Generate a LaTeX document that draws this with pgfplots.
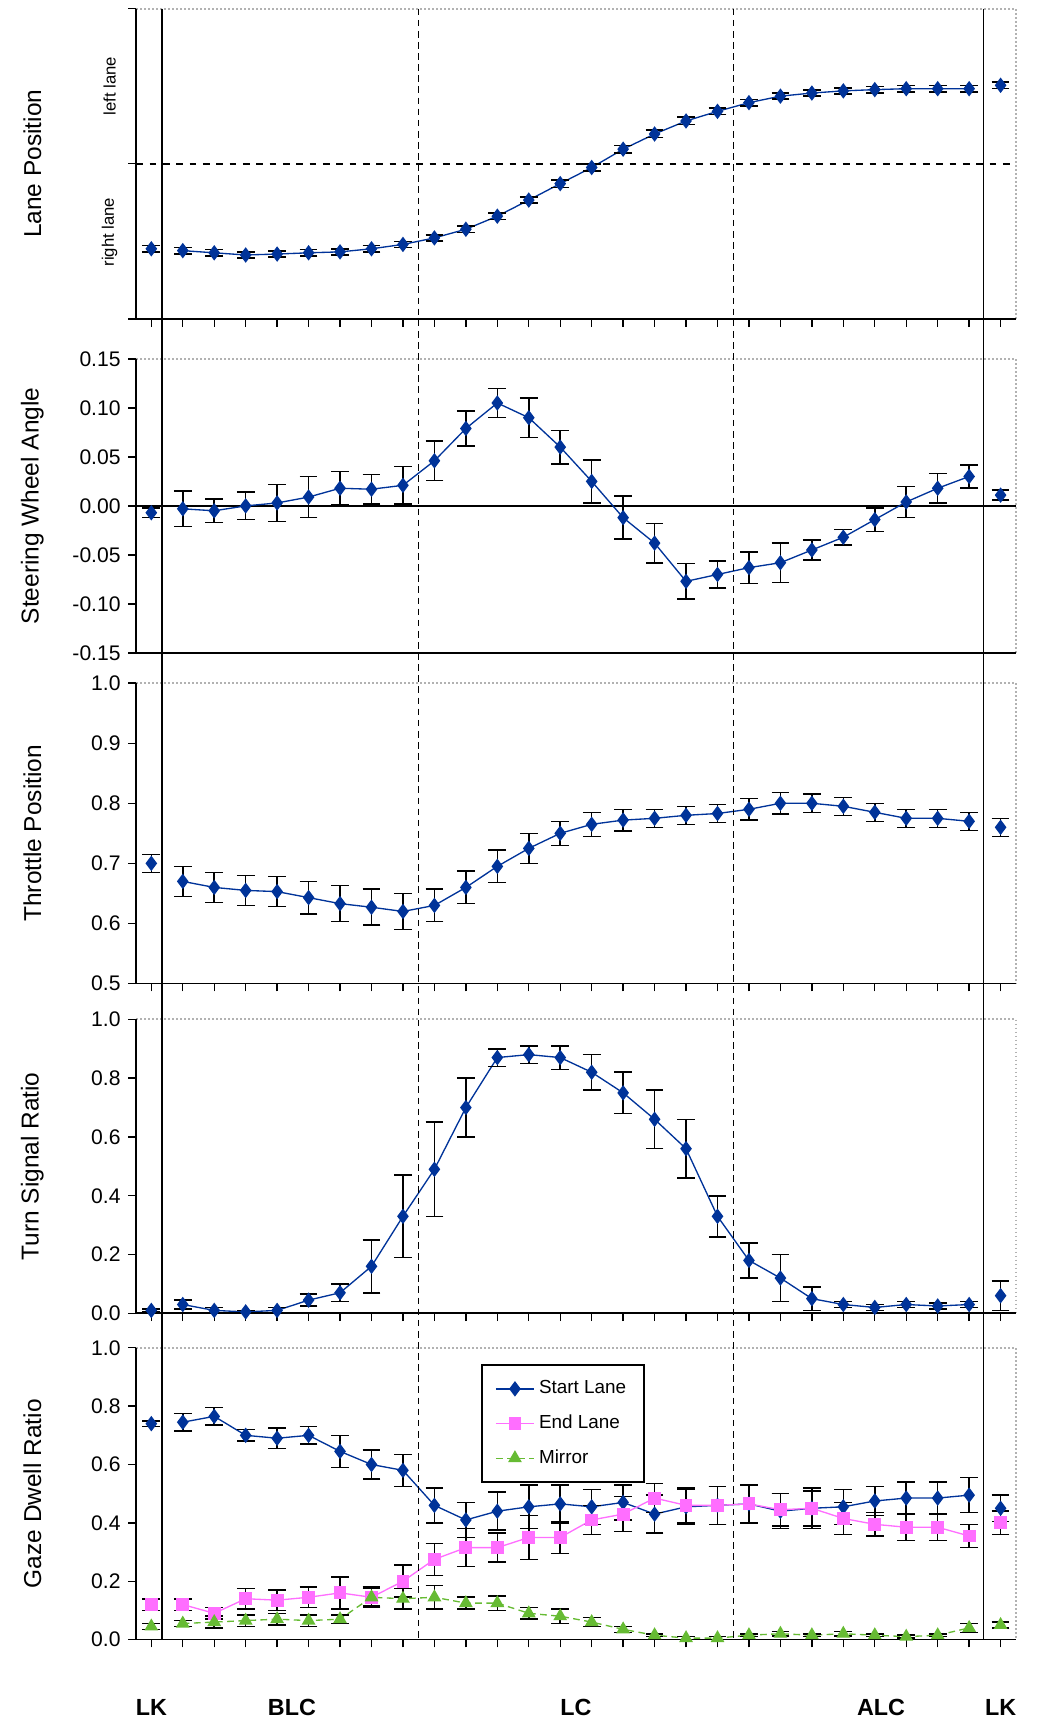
\documentclass[border=0pt]{standalone}
\usepackage{pgfplots}
\pgfplotsset{compat=1.18}
\usepackage{fontspec}
\setmainfont{Liberation Sans}
\definecolor{cS}{RGB}{0,51,153}
\definecolor{cE}{RGB}{255,110,255}
\definecolor{cM}{RGB}{102,187,51}
\pgfplotsset{
 panel/.style={width=395.9pt, scale only axis, xmin=-0.48, xmax=27.49,
  anchor=north west, clip=false, axis line style={draw=none},
  xtick={0,...,27}, xticklabels={}, tick style={black, line width=0.6pt},
  xtick pos=bottom, ytick pos=left, tick align=outside, major tick length=3.5pt,
  unbounded coords=jump,
  /pgf/number format/assume math mode=true,
  ticklabel style={font=\fontsize{9.5}{10}\selectfont},
  /pgf/number format/fixed, /pgf/number format/fixed zerofill,
  ylabel style={font=\fontsize{11}{12}\selectfont, at={(axis description cs:-0.118,0.5)}, anchor=center},
  execute at end axis={
   \draw[gray!60, densely dotted, line width=0.8pt] (rel axis cs:0,1) -- (rel axis cs:1,1) -- (rel axis cs:1,0);
   \draw[black, line width=0.8pt] (rel axis cs:0,1) -- (rel axis cs:0,0) -- (rel axis cs:1,0);
  }},
 sl/.style={color=cS, line width=0.6pt, mark=diamond*, mark size=3pt, mark options={fill=cS},
  error bars/.cd, y dir=both, y explicit, error bar style={black, line width=0.7pt},
  error mark options={rotate=90, black, mark size=4pt, line width=0.7pt}},
 el/.style={color=cE, line width=0.6pt, mark=square*, mark size=2.6pt, mark options={fill=cE},
  error bars/.cd, y dir=both, y explicit, error bar style={black, line width=0.7pt},
  error mark options={rotate=90, black, mark size=4pt, line width=0.7pt}},
 ml/.style={color=cM, line width=0.6pt, densely dashed, mark=triangle*, mark size=3pt, mark options={fill=cM, solid},
  error bars/.cd, y dir=both, y explicit, error bar style={black, line width=0.7pt, solid},
  error mark options={rotate=90, black, mark size=4pt, line width=0.7pt, solid}},
}
\begin{document}
\begin{tikzpicture}
\path (-61.3pt,0) rectangle (406.1pt,-775.8pt);
% Panel 1
\begin{axis}[panel, name=p1, at={(0,-3.9pt)}, height=139.6pt, ymin=0, ymax=1,
  ytick={0,0.5,1}, yticklabels={}, ylabel={Lane Position}]
\addplot[sl] table[x=x,y=y,y error=e]{
x y e
0 0.226 0.01
0.5 nan 0
1 0.220 0.01
2 0.213 0.01
3 0.206 0.01
4 0.209 0.01
5 0.213 0.01
6 0.216 0.01
7 0.226 0.01
8 0.240 0.01
9 0.261 0.01
10 0.289 0.01
11 0.331 0.01
12 0.383 0.01
13 0.436 0.012
14 0.488 0.012
15 0.547 0.012
16 0.596 0.012
17 0.638 0.012
18 0.669 0.01
19 0.697 0.01
20 0.718 0.01
21 0.728 0.01
22 0.735 0.01
23 0.739 0.01
24 0.742 0.01
25 0.742 0.01
26 0.742 0.01
26.5 nan 0
27 0.753 0.01
};
\draw[black, dashed, line width=0.7pt] (axis cs:-0.48,0.5) -- (axis cs:27.49,0.5);
\node[rotate=90, font=\fontsize{7.5}{8}\selectfont, anchor=center] at ([xshift=-12pt]rel axis cs:0,0.75) {left lane};
\node[rotate=90, font=\fontsize{7.5}{8}\selectfont, anchor=center] at ([xshift=-12pt]rel axis cs:0,0.28) {right lane};
\coordinate (t1) at (axis cs:0.34,1); \coordinate (t2) at (axis cs:8.5,1);
\coordinate (t3) at (axis cs:18.5,1); \coordinate (t4) at (axis cs:26.46,1);
\end{axis}
% Panel 2
\begin{axis}[panel, at={(0,-161.5pt)}, height=132.3pt, ymin=-0.15, ymax=0.15,
  ytick={-0.15,-0.1,...,0.16}, /pgf/number format/precision=2, xtick=\empty, ylabel={Steering Wheel Angle}]
\draw[black, line width=0.8pt] (axis cs:-0.48,0) -- (axis cs:27.49,0);
\addplot[sl] table[x=x,y=y,y error=e]{
x y e
0 -0.007 0.005
0.5 nan 0
1 -0.003 0.018
2 -0.005 0.012
3 0.0 0.014
4 0.003 0.019
5 0.009 0.021
6 0.018 0.017
7 0.017 0.015
8 0.021 0.019
9 0.046 0.02
10 0.079 0.018
11 0.105 0.015
12 0.09 0.02
13 0.06 0.017
14 0.025 0.022
15 -0.012 0.022
16 -0.038 0.02
17 -0.077 0.018
18 -0.07 0.014
19 -0.063 0.016
20 -0.058 0.02
21 -0.045 0.01
22 -0.032 0.008
23 -0.014 0.012
24 0.004 0.016
25 0.018 0.015
26 0.03 0.012
26.5 nan 0
27 0.011 0.005
};
\end{axis}
% Panel 3
\begin{axis}[panel, at={(0,-307.4pt)}, height=135.2pt, ymin=0.5, ymax=1,
  ytick={0.5,0.6,...,1.01}, /pgf/number format/precision=1, ylabel={Throttle Position}]
\addplot[sl] table[x=x,y=y,y error=e]{
x y e
0 0.70 0.015
0.5 nan 0
1 0.67 0.025
2 0.66 0.025
3 0.655 0.025
4 0.653 0.025
5 0.643 0.027
6 0.633 0.03
7 0.627 0.03
8 0.62 0.03
9 0.63 0.027
10 0.66 0.027
11 0.695 0.027
12 0.725 0.025
13 0.75 0.02
14 0.765 0.02
15 0.772 0.018
16 0.775 0.015
17 0.78 0.015
18 0.783 0.015
19 0.79 0.018
20 0.80 0.018
21 0.80 0.015
22 0.795 0.015
23 0.785 0.015
24 0.775 0.015
25 0.775 0.015
26 0.77 0.015
26.5 nan 0
27 0.76 0.015
};
\end{axis}
% Panel 4
\begin{axis}[panel, at={(0,-458.7pt)}, height=132.3pt, ymin=0, ymax=1,
  ytick={0,0.2,...,1.01}, /pgf/number format/precision=1, ylabel={Turn Signal Ratio}]
\addplot[sl] table[x=x,y=y,y error=e]{
x y e
0 0.01 0.005
0.5 nan 0
1 0.03 0.015
2 0.01 0.01
3 0.005 0.005
4 0.01 0.01
5 0.045 0.02
6 0.07 0.03
7 0.16 0.09
8 0.33 0.14
9 0.49 0.16
10 0.70 0.10
11 0.87 0.03
12 0.88 0.03
13 0.87 0.04
14 0.82 0.06
15 0.75 0.07
16 0.66 0.10
17 0.56 0.10
18 0.33 0.07
19 0.18 0.06
20 0.12 0.08
21 0.05 0.04
22 0.03 0.01
23 0.02 0.01
24 0.03 0.01
25 0.025 0.01
26 0.03 0.01
26.5 nan 0
27 0.06 0.05
};
\end{axis}
% Panel 5
\begin{axis}[panel, at={(0,-606.5pt)}, height=131.3pt, ymin=0, ymax=1,
  ytick={0,0.2,...,1.01}, /pgf/number format/precision=1, ylabel={Gaze Dwell Ratio},
  legend style={at={(0.392,0.944)}, anchor=north west, draw=black, line width=0.8pt,
   font=\fontsize{8.5}{10}\selectfont, row sep=4pt, inner xsep=6pt, inner ysep=5pt},
  legend cell align=left]
\addplot[sl] table[x=x,y=y,y error=e]{
x y e
0 0.74 0.01
0.5 nan 0
1 0.745 0.03
2 0.765 0.03
3 0.70 0.02
4 0.69 0.035
5 0.70 0.03
6 0.645 0.055
7 0.60 0.05
8 0.58 0.055
9 0.46 0.06
10 0.41 0.06
11 0.44 0.065
12 0.455 0.075
13 0.465 0.065
14 0.455 0.06
15 0.47 0.06
16 0.43 0.065
17 0.455 0.06
18 0.46 0.065
19 0.465 0.065
20 0.44 0.06
21 0.45 0.07
22 0.455 0.06
23 0.475 0.05
24 0.485 0.055
25 0.485 0.055
26 0.495 0.06
26.5 nan 0
27 0.45 0.045
};
\addlegendentry{Start Lane}
\addplot[el] table[x=x,y=y,y error=e]{
x y e
0 0.12 0.02
0.5 nan 0
1 0.12 0.02
2 0.09 0.02
3 0.14 0.035
4 0.135 0.035
5 0.145 0.035
6 0.16 0.055
7 0.145 0.035
8 0.20 0.055
9 0.275 0.055
10 0.315 0.065
11 0.315 0.05
12 0.35 0.075
13 0.35 0.055
14 0.41 0.05
15 0.43 0.06
16 0.485 0.05
17 0.46 0.06
18 0.46 0.065
19 0.465 0.065
20 0.445 0.055
21 0.45 0.06
22 0.415 0.055
23 0.395 0.04
24 0.385 0.045
25 0.385 0.045
26 0.355 0.04
26.5 nan 0
27 0.40 0.04
};
\addlegendentry{End Lane}
\addplot[ml] table[x=x,y=y,y error=e]{
x y e
0 0.045 0.01
0.5 nan 0
1 0.055 0.01
2 0.06 0.02
3 0.065 0.02
4 0.07 0.02
5 0.065 0.02
6 0.07 0.015
7 0.145 0.03
8 0.14 0.035
9 0.145 0.04
10 0.125 0.02
11 0.125 0.025
12 0.09 0.02
13 0.08 0.025
14 0.06 0.015
15 0.035 0.01
16 0.015 0.005
17 0.005 0.005
18 0.005 0.005
19 0.015 0.005
20 0.02 0.008
21 0.015 0.005
22 0.02 0.008
23 0.015 0.005
24 0.01 0.005
25 0.015 0.005
26 0.04 0.015
26.5 nan 0
27 0.05 0.01
};
\addlegendentry{Mirror}
\node[font=\fontsize{10.5}{12}\selectfont\bfseries] at ([yshift=-30.6pt]axis cs:0,0) {LK};
\node[font=\fontsize{10.5}{12}\selectfont\bfseries] at ([yshift=-30.6pt]axis cs:4.47,0) {BLC};
\node[font=\fontsize{10.5}{12}\selectfont\bfseries] at ([yshift=-30.6pt]axis cs:13.5,0) {LC};
\node[font=\fontsize{10.5}{12}\selectfont\bfseries] at ([yshift=-30.6pt]axis cs:23.2,0) {ALC};
\node[font=\fontsize{10.5}{12}\selectfont\bfseries] at ([yshift=-30.6pt]axis cs:27.0,0) {LK};
\coordinate (b1) at (axis cs:0.34,0); \coordinate (b2) at (axis cs:8.5,0);
\coordinate (b3) at (axis cs:18.5,0); \coordinate (b4) at (axis cs:26.46,0);
\end{axis}
\draw[black, line width=0.7pt] (t1) -- (b1);
\draw[black, line width=0.7pt] (t4) -- (b4);
\draw[black, densely dashed, line width=0.6pt] (t2) -- (b2);
\draw[black, densely dashed, line width=0.6pt] (t3) -- (b3);
\end{tikzpicture}
\end{document}
